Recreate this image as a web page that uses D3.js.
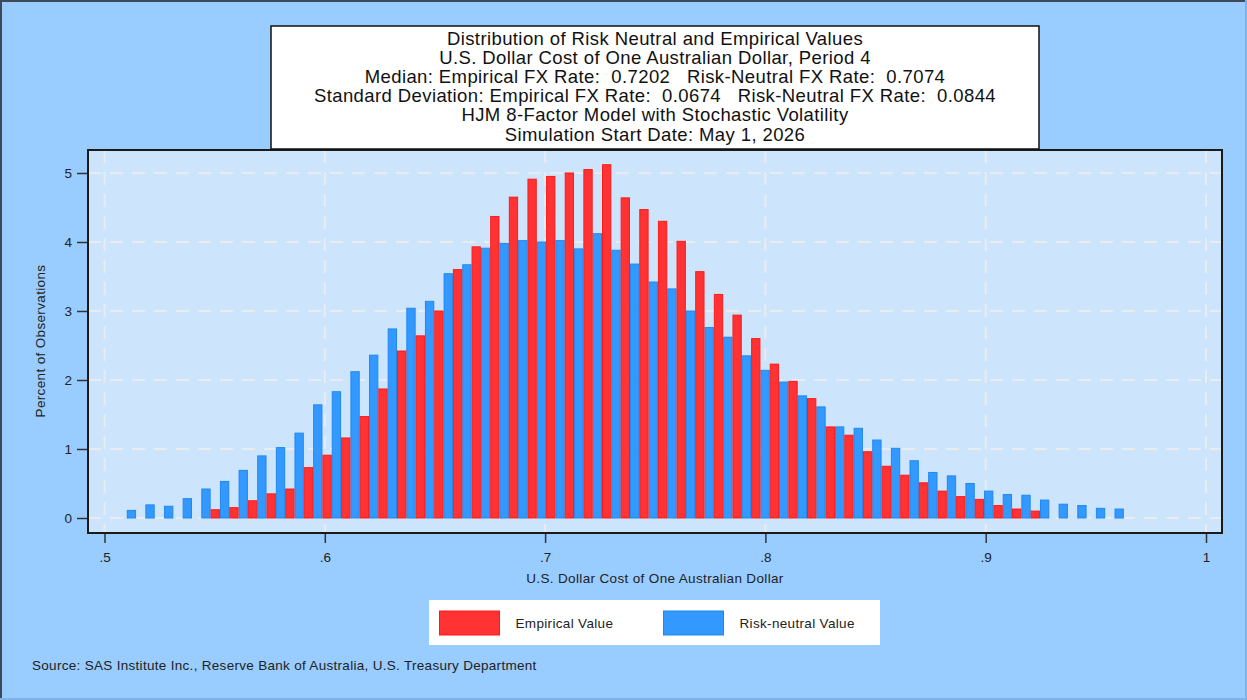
<!DOCTYPE html>
<html>
<head>
<meta charset="utf-8">
<script src="https://cdn.jsdelivr.net/npm/d3@7"></script>
<style>
  html, body { margin: 0; padding: 0; background: #99ccff; }
  svg { display: block; font-family: "Liberation Sans", Arial, sans-serif; }
</style>
</head>
<body>
<svg id="chart" width="1247" height="700"></svg>
<script>
// histogram bins (x = U.S. dollar cost of one AUD), percent of observations
const binStart = 0.5101;
const binWidth = 0.00846;
const riskNeutral = [0.11,0.19,0.17,0.28,0.42,0.53,0.69,0.90,1.02,1.23,
  1.64,1.83,2.12,2.36,2.74,3.04,3.14,3.54,3.67,3.91,
  3.98,4.02,4.00,4.02,3.90,4.12,3.88,3.68,3.42,3.32,
  3.00,2.76,2.62,2.35,2.14,1.97,1.77,1.61,1.32,1.30,
  1.13,1.01,0.83,0.66,0.61,0.50,0.39,0.34,0.33,0.26,
  0.20,0.18,0.14,0.13];
const empirical = [0,0,0,0,0.12,0.15,0.25,0.35,0.42,0.73,
  0.91,1.16,1.47,1.87,2.42,2.64,3.00,3.60,3.93,4.37,
  4.65,4.91,4.95,5.00,5.05,5.12,4.64,4.47,4.30,4.01,
  3.57,3.24,2.94,2.60,2.23,1.98,1.73,1.32,1.20,0.96,
  0.75,0.62,0.51,0.39,0.31,0.27,0.18,0.13,0.10,0,
  0,0,0,0];
const xTicks = [0.5,0.6,0.7,0.8,0.9,1];
const yTicks = [0,1,2,3,4,5];
const titleLines = [
  "Distribution of Risk Neutral and Empirical Values",
  "U.S. Dollar Cost of One Australian Dollar, Period 4",
  "Median: Empirical FX Rate:  0.7202   Risk-Neutral FX Rate:  0.7074",
  "Standard Deviation: Empirical FX Rate:  0.0674   Risk-Neutral FX Rate:  0.0844",
  "HJM 8-Factor Model with Stochastic Volatility",
  "Simulation Start Date: May 1, 2026"
];
const seriesNames = ["Empirical Value", "Risk-neutral Value"];

const colors = {
  red: "#ff3333", redLine: "#ff1a1a",
  blue: "#3399ff", blueLine: "#1f88f0"
};

const svg = d3.select('#chart');
const W = 1247, H = 700;

// outer background + border
svg.append('rect').attr('x', 0).attr('y', 0).attr('width', W).attr('height', H).attr('fill', '#99ccff');
svg.append('line').attr('x1', 0).attr('y1', 1).attr('x2', W).attr('y2', 1).attr('stroke', '#3d4a58').attr('stroke-width', 2);
svg.append('line').attr('x1', 1).attr('y1', 0).attr('x2', 1).attr('y2', H).attr('stroke', '#3d4a58').attr('stroke-width', 2);
svg.append('line').attr('x1', W - 1).attr('y1', 0).attr('x2', W - 1).attr('y2', H).attr('stroke', '#7fb2e6').attr('stroke-width', 2);
svg.append('line').attr('x1', 0).attr('y1', H - 1).attr('x2', W).attr('y2', H - 1).attr('stroke', '#7fb2e6').attr('stroke-width', 2);

// plot frame
const frame = { left: 88, top: 150, right: 1222, bottom: 533 };

const x = d3.scaleLinear().domain([0.5, 1]).range([104.5, 1206]);
const y = d3.scaleLinear().domain([0, 5]).range([518, 173]);

svg.append('rect')
  .attr('x', frame.left).attr('y', frame.top)
  .attr('width', frame.right - frame.left).attr('height', frame.bottom - frame.top)
  .attr('fill', '#cce5fd');

// grid
const grid = svg.append('g').attr('class', 'grid');
grid.selectAll('line.v').data(xTicks).enter().append('line')
  .attr('x1', d => x(d)).attr('x2', d => x(d))
  .attr('y1', frame.top).attr('y2', frame.bottom)
  .attr('stroke', '#e8ecf0').attr('stroke-width', 2).attr('stroke-dasharray', '13,9');
grid.selectAll('line.h').data(yTicks).enter().append('line')
  .attr('x1', frame.left).attr('x2', frame.right)
  .attr('y1', d => y(d)).attr('y2', d => y(d))
  .attr('stroke', '#e8ecf0').attr('stroke-width', 2).attr('stroke-dasharray', '13,9');

// bars
const bins = riskNeutral.map((v, i) => ({
  lo: binStart + i * binWidth,
  mid: binStart + (i + 0.5) * binWidth,
  hi: binStart + (i + 1) * binWidth,
  rn: v,
  emp: empirical[i]
}));

const bars = svg.append('g');
bars.selectAll('rect.rn').data(bins.filter(b => b.rn > 0)).enter().append('rect')
  .attr('x', b => x(b.lo) + 0.5)
  .attr('y', b => y(b.rn))
  .attr('width', b => x(b.mid) - x(b.lo) - 1)
  .attr('height', b => y(0) - y(b.rn))
  .attr('fill', colors.blue).attr('stroke', colors.blueLine).attr('stroke-width', 1);
bars.selectAll('rect.emp').data(bins.filter(b => b.emp > 0)).enter().append('rect')
  .attr('x', b => x(b.mid) + 0.5)
  .attr('y', b => y(b.emp))
  .attr('width', b => x(b.hi) - x(b.mid) - 1)
  .attr('height', b => y(0) - y(b.emp))
  .attr('fill', colors.red).attr('stroke', colors.redLine).attr('stroke-width', 1);

// frame border
svg.append('rect')
  .attr('x', frame.left).attr('y', frame.top)
  .attr('width', frame.right - frame.left).attr('height', frame.bottom - frame.top)
  .attr('fill', 'none').attr('stroke', '#1a1a1a').attr('stroke-width', 2);

// axes
const yAxis = svg.append('g')
  .attr('transform', `translate(${frame.left - 1}, 0)`)
  .call(d3.axisLeft(y).tickValues(yTicks).tickSize(10).tickPadding(5).tickFormat(d3.format('d')));
const xAxis = svg.append('g')
  .attr('transform', `translate(0, ${frame.bottom + 1})`)
  .call(d3.axisBottom(x).tickValues(xTicks).tickSize(9).tickPadding(9)
    .tickFormat(d => d === 1 ? '1' : d3.format('.1f')(d).replace(/^0/, '')));
[xAxis, yAxis].forEach(a => {
  a.select('.domain').remove();
  a.selectAll('line').attr('stroke', '#333').attr('stroke-width', 1.5);
  a.selectAll('text').attr('fill', '#222').style('font-size', '13.5px')
    .style('font-family', '"Liberation Sans", Arial, sans-serif');
});

// axis titles
svg.append('text')
  .attr('transform', 'translate(45, 341) rotate(-90)')
  .attr('text-anchor', 'middle')
  .attr('fill', '#222').style('font-size', '13.5px').style('letter-spacing', '0.35px')
  .text('Percent of Observations');
svg.append('text')
  .attr('x', 655).attr('y', 583)
  .attr('text-anchor', 'middle')
  .attr('fill', '#222').style('font-size', '13.5px').style('letter-spacing', '0.35px')
  .text('U.S. Dollar Cost of One Australian Dollar');

// title box
svg.append('rect')
  .attr('x', 271).attr('y', 26).attr('width', 768).attr('height', 123)
  .attr('fill', '#fff').attr('stroke', '#111').attr('stroke-width', 1.5);
svg.append('g').selectAll('text').data(titleLines).enter().append('text')
  .attr('x', 655)
  .attr('y', (d, i) => 44.5 + i * 19.2)
  .attr('text-anchor', 'middle')
  .attr('fill', '#111')
  .style('font-size', '18.5px')
  .style('letter-spacing', '0.4px')
  .style('white-space', 'pre')
  .attr('xml:space', 'preserve')
  .text(d => d);

// legend
const legend = svg.append('g');
legend.append('rect').attr('x', 429).attr('y', 600).attr('width', 451).attr('height', 45).attr('fill', '#fff');
const legendItems = [
  { name: seriesNames[0], fill: colors.red, line: colors.redLine, sx: 439.5, tx: 515.5 },
  { name: seriesNames[1], fill: colors.blue, line: colors.blueLine, sx: 663.5, tx: 739.5 }
];
legendItems.forEach(it => {
  legend.append('rect').attr('x', it.sx).attr('y', 611).attr('width', 60).attr('height', 24)
    .attr('fill', it.fill).attr('stroke', it.line).attr('stroke-width', 1);
  legend.append('text').attr('x', it.tx).attr('y', 628)
    .attr('fill', '#222').style('font-size', '13.5px').style('letter-spacing', '0.33px').text(it.name);
});

// source
svg.append('text')
  .attr('x', 32).attr('y', 669.5)
  .attr('fill', '#222').style('font-size', '13.5px').style('letter-spacing', '0.3px')
  .text('Source: SAS Institute Inc., Reserve Bank of Australia, U.S. Treasury Department');
</script>
</body>
</html>
